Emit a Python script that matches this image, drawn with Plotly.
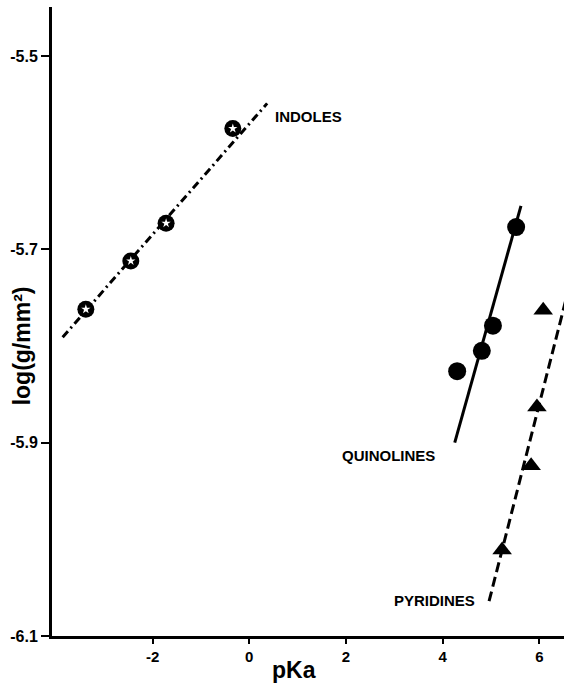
import plotly.graph_objects as go

# pKa vs log(g/mm^2) for three heterocycle families
indole_pka = [-3.38, -2.45, -1.72, -0.34]
indole_log = [-5.762, -5.712, -5.673, -5.575]
indole_fit_pka = [-3.86, 0.37]
indole_fit_log = [-5.791, -5.549]

quin_pka = [4.30, 4.81, 5.04, 5.52]
quin_log = [-5.826, -5.805, -5.779, -5.677]
quin_fit_pka = [4.25, 5.62]
quin_fit_log = [-5.900, -5.655]

pyr_pka = [5.23, 5.83, 5.95, 6.08]
pyr_log = [-6.011, -5.924, -5.863, -5.763]
pyr_fit_pka = [4.96, 6.55]
pyr_fit_log = [-6.064, -5.752]

x_ticks = [-2, 0, 2, 4, 6]
y_ticks = [-6.1, -5.9, -5.7, -5.5]

FONT = "Liberation Sans, Arial, sans-serif"

fig = go.Figure()

# regression lines
fig.add_trace(go.Scatter(x=indole_fit_pka, y=indole_fit_log, mode="lines",
                         line=dict(color="black", width=3, dash="8px,4px,2px,4px"),
                         hoverinfo="skip"))
fig.add_trace(go.Scatter(x=quin_fit_pka, y=quin_fit_log, mode="lines",
                         line=dict(color="black", width=3), hoverinfo="skip"))
fig.add_trace(go.Scatter(x=pyr_fit_pka, y=pyr_fit_log, mode="lines",
                         line=dict(color="black", width=3, dash="10px,5px"),
                         hoverinfo="skip"))

# indoles: black disc with white star
fig.add_trace(go.Scatter(x=indole_pka, y=indole_log, mode="markers",
                         marker=dict(symbol="circle", size=17, color="black")))
fig.add_trace(go.Scatter(x=indole_pka, y=indole_log, mode="markers",
                         marker=dict(symbol="star", size=7, color="white")))

# quinolines: filled circles
fig.add_trace(go.Scatter(x=quin_pka, y=quin_log, mode="markers",
                         marker=dict(symbol="circle", size=18, color="black")))

# pyridines: filled triangles
fig.add_trace(go.Scatter(x=pyr_pka, y=pyr_log, mode="markers",
                         marker=dict(symbol="triangle-up", size=17, color="black")))

label_font = dict(family=FONT, size=15, color="black", weight="bold")
fig.add_annotation(x=0.49, y=-5.563, text="INDOLES", showarrow=False,
                   xanchor="left", yanchor="middle", font=label_font)
fig.add_annotation(x=3.88, y=-5.913, text="QUINOLINES", showarrow=False,
                   xanchor="right", yanchor="middle", font=label_font)
fig.add_annotation(x=4.71, y=-6.063, text="PYRIDINES", showarrow=False,
                   xanchor="right", yanchor="middle", font=label_font)

# axis titles
fig.add_annotation(xref="paper", yref="paper", x=0.473, y=-0.054,
                   text="pKa", showarrow=False, xanchor="center", yanchor="middle",
                   font=dict(family=FONT, size=23, weight="bold", color="black"))
fig.add_annotation(xref="paper", yref="paper", x=-0.058, y=0.461,
                   text="log(g/mm²)", showarrow=False, textangle=-90,
                   xanchor="center", yanchor="middle",
                   font=dict(family=FONT, size=23, weight="bold", color="black"))

fig.update_layout(
    width=564, height=688,
    margin=dict(l=52, r=0, t=7, b=52),
    plot_bgcolor="white", paper_bgcolor="white",
    showlegend=False,
    font=dict(family=FONT, color="black"),
)

fig.update_xaxes(
    range=[-4.08, 6.51], tickvals=x_ticks, ticktext=[str(v) for v in x_ticks],
    showgrid=False, zeroline=False, showline=True, linecolor="black", linewidth=3,
    ticks="outside", ticklen=5, tickwidth=2, tickcolor="black",
    tickfont=dict(family=FONT, size=15, weight="bold"),
)
fig.update_yaxes(
    range=[-6.1, -5.4493], tickvals=y_ticks, ticktext=[f"{v:.1f}" for v in y_ticks],
    showgrid=False, zeroline=False, showline=True, linecolor="black", linewidth=3,
    ticks="outside", ticklen=8, tickwidth=2, tickcolor="black",
    tickfont=dict(family=FONT, size=16, weight="bold"),
)

fig.write_html("out.html")
